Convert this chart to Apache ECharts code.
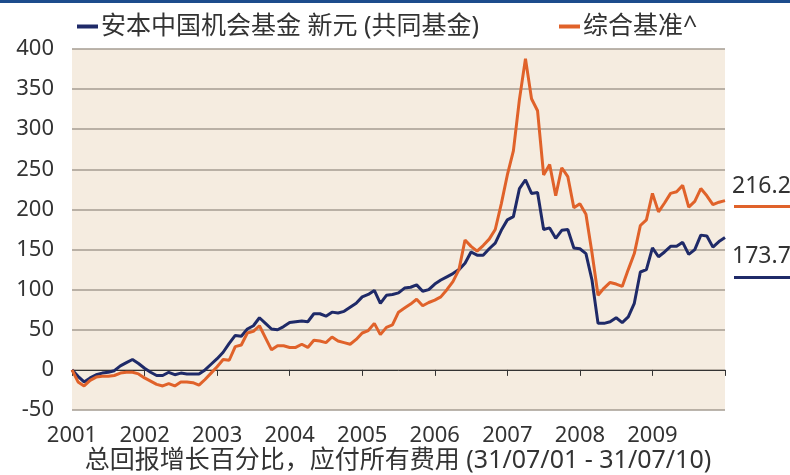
<!DOCTYPE html>
<html>
<head>
<meta charset="utf-8">
<script src="https://cdn.jsdelivr.net/npm/echarts@6/dist/echarts.min.js"></script>
<style>
html,body{margin:0;padding:0;background:#fff;}
#chart{width:790px;height:475px;}
</style>
</head>
<body>
<div id="chart"></div>
<script>
// ---- data ----
var seriesNames = ['安本中国机会基金 新元 (共同基金)', '综合基准^'];
var yearLabels = ['2001','2002','2003','2004','2005','2006','2007','2008','2009',''];
var fundValues = [
  0,-8,-15,-10,-6,-4,-3,-1,5,9,13,8,
  2,-3,-7,-7,-3,-6,-4,-5,-5,-5,0,7,
  14,22,33,43,42,51,55,65,58,51,50,54,
  59,60,61,60,70,70,67,72,71,73,78,83,
  91,94,99,83,93,94,96,102,103,106,98,100,
  107,112,116,120,125,133,147,143,143,151,158,174,
  187,191,226,237,220,221,175,177,164,174,175,152,
  151,145,112,58,58,60,65,59,66,83,122,125,
  152,141,147,154,154,159,144,150,168,167,153,160,
  165
];
var benchValues = [
  0,-15,-20,-13,-9,-8,-8,-7,-4,-3,-3,-5,
  -10,-14,-18,-20,-17,-20,-15,-15,-16,-19,-12,-4,
  4,13,12,29,31,46,48,55,40,25,30,30,
  28,28,32,28,37,36,34,41,36,34,32,38,
  46,49,58,44,53,56,72,77,82,88,80,84,
  87,91,100,110,125,162,154,148,155,163,175,207,
  243,273,337,388,338,323,243,256,217,252,241,202,
  207,194,146,93,102,109,107,104,125,145,180,187,
  220,197,208,220,222,230,203,210,226,217,206,209,
  211
];
var endLabels = ['216.2', '173.7'];
var subtitle = '总回报增长百分比，应付所有费用 (31/07/01 - 31/07/10)';

// month categories Jul 2001 .. Jul 2010
var categories = [];
for (var k = 0; k < fundValues.length; k++) {
  var m = 6 + k;
  categories.push((2001 + Math.floor(m / 12)) + '-' + ('0' + (m % 12 + 1)).slice(-2));
}

var NAVY = '#1f2a68';
var ORANGE = '#e0622a';
var TXT = '#333333';
var FONT = '"Noto Sans", "Noto Sans CJK SC", sans-serif';

var chart = echarts.init(document.getElementById('chart'), null, {renderer: 'canvas'});
chart.setOption({
  animation: false,
  textStyle: {fontFamily: FONT},
  grid: {left: 72, right: 65, top: 49, bottom: 65, containLabel: false,
         show: true, backgroundColor: '#f5ece0', borderWidth: 0},
  legend: {
    left: 72, top: 9,
    itemWidth: 21, itemHeight: 4, itemGap: 80,
    icon: 'rect',
    textStyle: {fontSize: 25, color: TXT, fontFamily: FONT, padding: [0, 0, 0, -2]},
    data: [
      {name: seriesNames[0], itemStyle: {color: NAVY}},
      {name: seriesNames[1], itemStyle: {color: ORANGE}}
    ]
  },
  xAxis: {
    type: 'category',
    data: categories,
    boundaryGap: false,
    axisLine: {show: true, lineStyle: {color: '#333', width: 1}},
    axisTick: {show: true, interval: 11, length: 6, lineStyle: {color: '#333'}},
    axisLabel: {
      interval: 11, margin: 15, fontSize: 22, color: TXT, fontFamily: FONT,
      formatter: function (val, idx) { return yearLabels[Math.round(idx / 12)] || ''; }
    },
    splitLine: {show: false}
  },
  yAxis: {
    type: 'value',
    min: -50, max: 400, interval: 50,
    axisLine: {show: false},
    axisTick: {show: false},
    axisLabel: {margin: 18, fontSize: 22, color: TXT, fontFamily: FONT},
    splitLine: {show: true, lineStyle: {color: '#a59d92', width: 1.5}}
  },
  series: [
    {name: seriesNames[0], type: 'line', data: fundValues, symbol: 'none',
     lineStyle: {color: NAVY, width: 3}, itemStyle: {color: NAVY}},
    {name: seriesNames[1], type: 'line', data: benchValues, symbol: 'none',
     lineStyle: {color: ORANGE, width: 3}, itemStyle: {color: ORANGE}}
  ],
  graphic: [
    {type: 'rect', left: 0, top: 0, shape: {width: 790, height: 3}, style: {fill: '#1c4c8c'}},
    {type: 'text', x: 732, y: 186, style: {text: endLabels[0], font: '23px ' + FONT, fill: TXT, textVerticalAlign: 'middle'}},
    {type: 'line', shape: {x1: 734, y1: 206.5, x2: 790, y2: 206.5}, style: {stroke: ORANGE, lineWidth: 3}},
    {type: 'text', x: 732, y: 256, style: {text: endLabels[1], font: '23px ' + FONT, fill: TXT, textVerticalAlign: 'middle'}},
    {type: 'line', shape: {x1: 734, y1: 277.5, x2: 790, y2: 277.5}, style: {stroke: NAVY, lineWidth: 3}},
    {type: 'text', x: 398, y: 461, style: {text: subtitle, font: '25px ' + FONT, fill: TXT, textAlign: 'center', textVerticalAlign: 'middle'}}
  ]
});
</script>
</body>
</html>
